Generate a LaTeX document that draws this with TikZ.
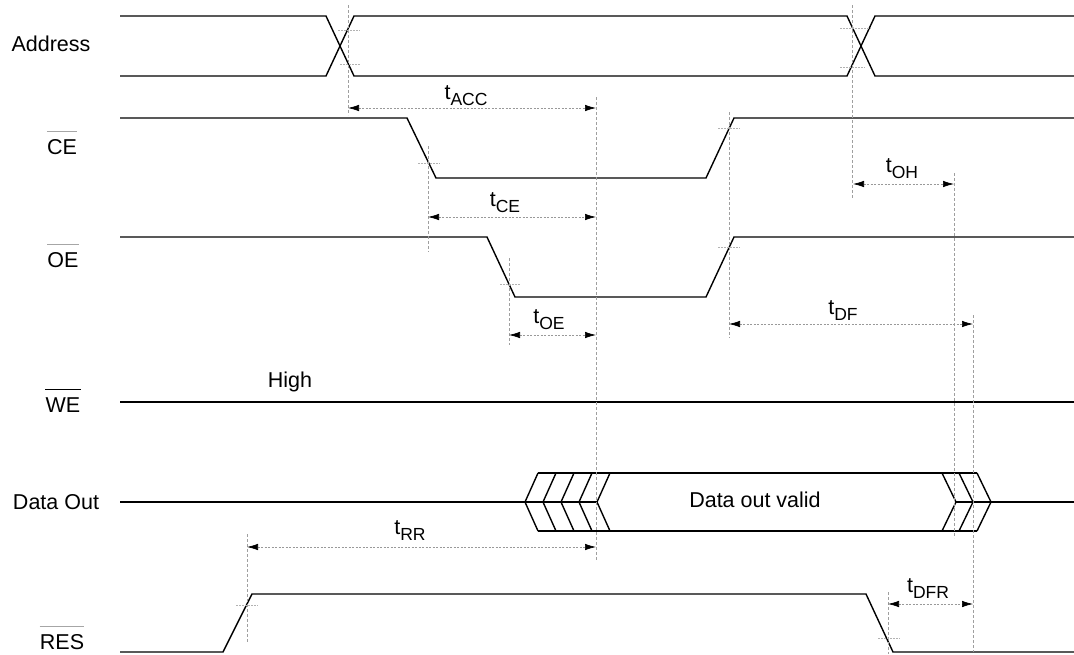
\documentclass[tikz,border=0pt]{standalone}
\usepackage{fontspec}
\setmainfont{Liberation Sans}
\usetikzlibrary{arrows.meta}
\newcommand{\tsub}[1]{t\raisebox{-6pt}{\fontsize{17.5}{17.5}\selectfont #1}}
\begin{document}
\begin{tikzpicture}[x=1pt,y=-1pt,
  sig/.style={line width=1.4pt, black, line join=miter},
  guide/.style={gray!75, line width=0.6pt, dash pattern=on 3pt off 2pt},
  tick/.style={gray!60, line width=0.6pt, dash pattern=on 2pt off 1pt},
  dim/.style={gray!80, line width=0.7pt, dash pattern=on 2pt off 1.5pt,
    {Latex[length=11pt,width=6.5pt,black]}-{Latex[length=11pt,width=6.5pt,black]}},
  lbl/.style={font=\fontsize{21.5}{24}\selectfont, inner sep=0pt},
  bar/.style={gray!70, line width=0.6pt},
]
\useasboundingbox (0,0) rectangle (1074,654);

% ---------- signal names ----------
\node[lbl] (address) at (51,44) {Address};
\node[lbl] (ce) at (62,147) {CE};
\node[lbl] (oe) at (63,260) {OE};
\node[lbl] (we) at (63,405) {WE};
\node[lbl] (dout) at (56,502) {Data Out};
\node[lbl] (res) at (62,642) {RES};
\draw[bar] ([yshift=8pt]ce.north west) -- ([yshift=8pt]ce.north east);
\draw[bar] ([yshift=8pt]oe.north west) -- ([yshift=8pt]oe.north east);
\draw[black, line width=0.7pt] ([yshift=8pt]we.north west) -- ([yshift=8pt]we.north east);
\draw[bar] ([yshift=8pt]res.north west) -- ([yshift=8pt]res.north east);

\node[lbl] (high) at (290,382) {High};
\node[lbl] (valid) at (755,500) {Data out valid};

% ---------- waveforms ----------
% Address
\draw[sig] (120,16) -- (326,16) -- (354,76) -- (847,76) -- (875,16) -- (1074,16);
\draw[sig] (120,76) -- (326,76) -- (354,16) -- (847,16) -- (875,76) -- (1074,76);
% CE
\draw[sig] (120,118) -- (407,118) -- (436,178) -- (706,178) -- (734,118) -- (1074,118);
% OE
\draw[sig] (120,237) -- (487,237) -- (515,297) -- (706,297) -- (734,237) -- (1074,237);
% WE
\draw[sig] (120,402) -- (1074,402);
% Data Out
\draw[sig] (120,502) -- (597,502);
\foreach \x in {525,543,561,579,597}
  \draw[sig] (\x+13,473) -- (\x,502) -- (\x+13,531);
\draw[sig] (538,473) -- (977,473);
\draw[sig] (538,531) -- (977,531);
\foreach \x in {942,959,977}
  \draw[sig] (\x,473) -- (\x+14,502) -- (\x,531);
\draw[sig] (956,502) -- (1074,502);
% RES
\draw[sig] (120,652) -- (223,652) -- (252,594) -- (866,594) -- (893,652) -- (1074,652);

% ---------- guide lines ----------
\coordinate (g1) at (348,108);
\coordinate (g2) at (428,217);
\coordinate (g3) at (509,335);
\coordinate (g4a) at (596,108);
\coordinate (g4b) at (596,217);
\coordinate (g4c) at (596,335);
\coordinate (g4d) at (596,547);
\coordinate (g5) at (729,324);
\coordinate (g6) at (853,184);
\coordinate (g7) at (954,184);
\coordinate (g8a) at (973,324);
\coordinate (g8b) at (973,604);
\coordinate (g9) at (247,547);
\coordinate (g10) at (888,604);

\draw[guide] (348,5) -- (348,115);
\draw[tick] (338,30) -- (360,30);
\draw[tick] (340,64) -- (360,64);
\draw[guide] (852,5) -- (852,198);
\draw[tick] (840,28) -- (871,28);
\draw[tick] (840,67) -- (865,67);
\draw[guide] (428,146) -- (428,252);
\draw[tick] (418,163) -- (440,163);
\draw[guide] (596,97) -- (596,560);
\draw[guide] (729,112) -- (729,338);
\draw[tick] (718,128) -- (740,128);
\draw[tick] (718,247) -- (740,247);
\draw[guide] (509,258) -- (509,345);
\draw[tick] (500,284) -- (520,284);
\draw[guide] (954,173) -- (954,538);
\draw[guide] (973,315) -- (973,652);
\draw[guide] (247,534) -- (247,643);
\draw[tick] (236,605) -- (258,605);
\draw[guide] (888,592) -- (888,654);
\draw[tick] (878,638) -- (900,638);

% ---------- timing dimensions ----------
\draw[dim] (g1) -- (g4a);
\node[lbl] (tacc) at (466,96) {\tsub{ACC}};
\draw[dim] (g2) -- (g4b);
\node[lbl] (tce) at (505,203) {\tsub{CE}};
\draw[dim] (g3) -- (g4c);
\node[lbl] (toe) at (549,320) {\tsub{OE}};
\draw[dim] (g6) -- (g7);
\node[lbl] (toh) at (902,169) {\tsub{OH}};
\draw[dim] (g5) -- (g8a);
\node[lbl] (tdf) at (843,311) {\tsub{DF}};
\draw[dim] (g9) -- (g4d);
\node[lbl] (trr) at (410,531) {\tsub{RR}};
\draw[dim] (g10) -- (g8b);
\node[lbl] (tdfr) at (928,589) {\tsub{DFR}};
\end{tikzpicture}
\end{document}
